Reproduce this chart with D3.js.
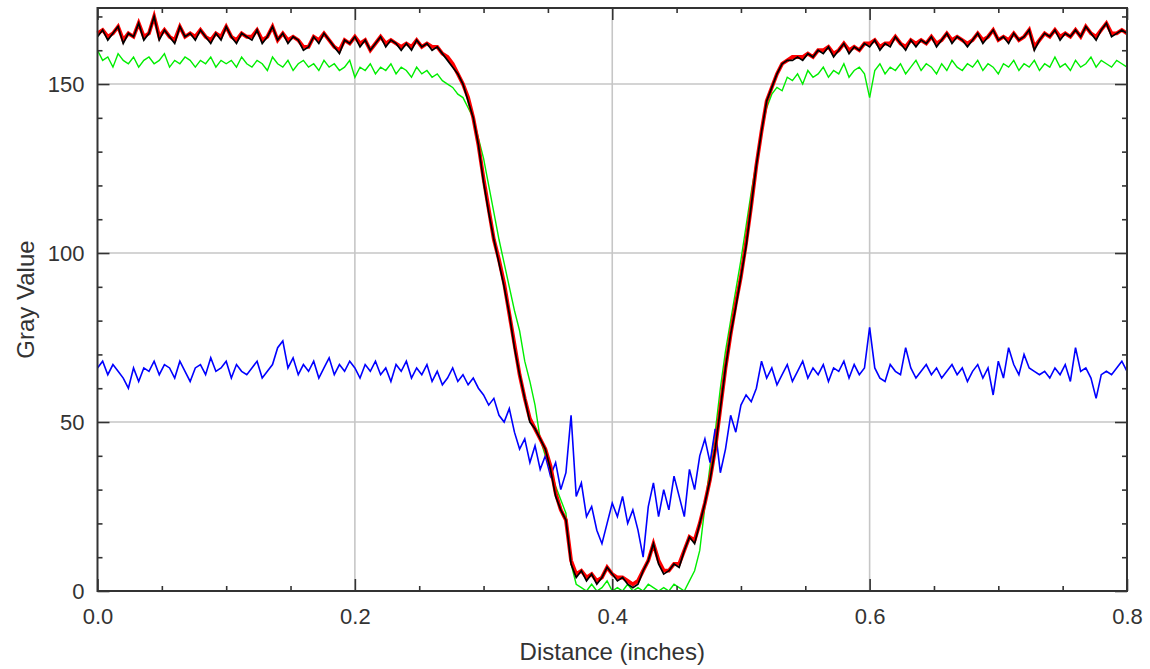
<!DOCTYPE html>
<html>
<head>
<meta charset="utf-8">
<script src="https://cdn.jsdelivr.net/npm/d3@7"></script>
<style>
  html, body { margin: 0; padding: 0; background: #ffffff; }
  svg { display: block; }
  text { font-family: "Liberation Sans", Arial, sans-serif; fill: #333; }
</style>
</head>
<body>
<svg id="chart" width="1150" height="669"></svg>
<script>
// ---- data ----
const xTickValues = [0.0, 0.2, 0.4, 0.6, 0.8];
const xTickLabels = ["0.0", "0.2", "0.4", "0.6", "0.8"];
const yTickValues = [0, 50, 100, 150];
const yTickLabels = ["0", "50", "100", "150"];
const xLabel = "Distance (inches)";
const yLabel = "Gray Value";
const sampleStep = 0.004; // inches between samples

const black = [
  164,166,163,165,167,162,165,164,168,163,
  165,170,163,166,164,162,167,164,165,163,
  166,164,162,165,163,167,164,162,165,164,
  163,166,162,164,167,163,165,162,164,163,
  160,161,164,162,165,163,161,159,163,162,
  164,161,163,160,162,164,161,163,162,160,
  162,160,163,161,162,160,161,159,157,155,
  153,150,145,140,132,121,112,104,97,90,
  82,72,64,57,50,48,45,42,36,28,
  24,21,8,4,6,3,5,2,4,7,
  5,3,4,2,1,2,6,9,14,8,
  5,6,8,7,12,16,14,20,26,33,
  42,54,66,76,84,93,102,114,126,136,
  145,149,153,156,157,157,158,157,159,158,
  160,159,161,158,160,162,159,161,160,162,
  161,163,160,162,161,164,162,160,163,161,
  163,162,164,161,163,165,162,164,163,161,
  163,165,162,164,166,163,164,162,165,163,
  164,166,160,163,165,164,166,163,165,164,
  166,164,167,165,163,166,168,164,165,166,
  165
];
const red = [
  165,166,164,165,167,163,165,164,168,164,
  165,170,164,166,164,163,167,164,165,164,
  166,164,163,165,164,167,164,163,165,164,
  164,166,163,164,167,163,165,163,164,163,
  161,161,164,163,165,163,161,160,163,162,
  164,162,163,160,162,164,162,163,162,161,
  162,161,163,161,162,161,161,159,158,156,
  153,150,146,140,132,122,113,104,98,91,
  82,73,64,57,51,48,45,42,37,29,
  24,21,9,5,6,4,5,3,4,7,
  5,4,4,3,2,3,6,9,14,9,
  6,6,8,8,12,16,15,20,26,33,
  42,54,66,76,85,93,103,114,126,136,
  145,149,153,156,157,158,158,158,159,158,
  160,160,161,159,160,162,160,161,160,162,
  162,163,161,162,162,164,162,161,163,162,
  163,162,164,162,163,165,163,164,163,162,
  163,165,163,164,166,163,164,163,165,163,
  164,166,161,163,165,164,166,164,165,164,
  166,164,167,165,164,166,168,165,165,166,
  165
];
const green = [
  160,157,158,155,159,157,156,158,155,157,
  158,156,157,159,155,157,156,158,157,155,
  157,156,158,155,157,156,157,155,158,156,
  155,157,156,154,158,156,155,157,154,156,
  157,155,156,154,157,155,156,154,155,157,
  152,155,154,156,153,155,154,156,153,155,
  154,152,155,153,154,152,153,151,150,149,
  147,146,143,140,134,128,120,112,104,97,
  90,83,77,68,62,55,45,40,36,31,
  27,23,8,2,1,0,2,0,1,3,
  0,1,0,2,0,1,0,2,1,0,
  1,0,2,1,0,3,6,12,25,37,
  47,60,71,80,89,98,108,118,127,136,
  143,147,149,148,152,151,153,150,154,152,
  153,155,152,154,153,156,152,154,155,153,
  146,154,156,153,155,154,156,153,155,157,
  154,156,155,153,156,154,157,155,154,156,
  155,157,154,156,155,153,156,155,157,154,
  156,155,157,154,156,155,158,155,156,154,
  157,155,156,158,155,157,156,155,157,156,
  155
];
const blue = [
  66,68,64,67,65,63,60,66,62,66,
  65,68,64,67,66,63,68,65,62,66,
  67,64,69,65,66,68,63,67,65,64,
  66,68,63,65,67,72,74,66,69,64,
  67,65,68,63,66,69,64,67,65,68,
  66,63,67,65,68,64,66,62,67,65,
  68,63,66,64,67,62,65,61,63,66,
  62,64,61,63,60,58,55,57,52,50,
  54,47,42,45,38,43,36,40,34,38,
  30,35,52,28,32,22,25,18,14,20,
  26,22,28,20,24,18,10,25,32,22,
  30,24,34,28,22,36,30,40,45,38,
  48,35,42,52,47,55,58,56,60,68,
  63,66,61,64,67,62,65,68,63,66,
  64,67,62,66,65,68,63,67,64,66,
  78,66,63,62,67,65,64,72,66,63,
  65,67,64,66,63,65,67,64,66,62,
  65,67,63,66,58,68,63,72,67,64,
  70,66,65,64,65,63,66,64,67,62,
  72,65,66,63,57,64,65,64,66,68,
  65
];

// ---- layout ----
const svg = d3.select("#chart");
const L = 97.5, R = 1127, T = 8, B = 591;
const x = d3.scaleLinear().domain([0, 0.8]).range([L, R]);
const y = d3.scaleLinear().domain([0, 172.5]).range([B, T]);

const distance = d3.range(black.length).map(i => i * sampleStep);

// grid
const grid = svg.append("g");
grid.selectAll("line.gx").data(xTickValues.slice(1)).join("line")
  .attr("x1", d => x(d)).attr("x2", d => x(d)).attr("y1", T).attr("y2", B)
  .attr("stroke", "#c6c6c6").attr("stroke-width", 1.6);
grid.selectAll("line.gy").data(yTickValues.slice(1)).join("line")
  .attr("x1", L).attr("x2", R).attr("y1", d => y(d)).attr("y2", d => y(d))
  .attr("stroke", "#c6c6c6").attr("stroke-width", 1.6);

// lines
const line = d3.line().x((d, i) => x(distance[i])).y(d => y(d)).curve(d3.curveLinear);
const plot = svg.append("g");
function drawSeries(data, color, w) {
  plot.append("path").datum(data).attr("d", line)
    .attr("fill", "none").attr("stroke", color).attr("stroke-width", w)
    .attr("stroke-linejoin", "miter");
}
drawSeries(green, "#00ee00", 1.4);
drawSeries(blue, "#0000ff", 1.6);
drawSeries(red, "#ff0000", 3.8);
drawSeries(black, "#000000", 1.7);

// axes (ticks inward)
const minorY = d3.range(0, 171, 10).filter(v => !yTickValues.includes(v));
const minorX = d3.range(0, 0.8001, 0.05).filter(v => !xTickValues.some(t => Math.abs(t - v) < 1e-6));

function styleAxis(g) {
  g.select(".domain").remove();
  g.selectAll(".tick line").attr("stroke", "#333").attr("stroke-width", 1.6);
}
const fmtY = d => yTickLabels[yTickValues.indexOf(d)];
const fmtX = d => xTickLabels[xTickValues.findIndex(t => Math.abs(t - d) < 1e-9)];

svg.append("g").attr("transform", `translate(${L},0)`)
  .call(d3.axisLeft(y).tickValues(yTickValues).tickSize(-12).tickPadding(13).tickFormat(fmtY))
  .call(styleAxis)
  .call(g => g.selectAll("text").style("font-size", "22px").attr("fill", "#333").attr("font-family", "Liberation Sans, Arial, sans-serif"));
svg.append("g").attr("transform", `translate(${L},0)`)
  .call(d3.axisLeft(y).tickValues(minorY).tickSize(-5).tickFormat(""))
  .call(styleAxis);
svg.append("g").attr("transform", `translate(${R},0)`)
  .call(d3.axisRight(y).tickValues(yTickValues).tickSize(-12).tickFormat(""))
  .call(styleAxis);
svg.append("g").attr("transform", `translate(${R},0)`)
  .call(d3.axisRight(y).tickValues(minorY).tickSize(-5).tickFormat(""))
  .call(styleAxis);

svg.append("g").attr("transform", `translate(0,${B})`)
  .call(d3.axisBottom(x).tickValues(xTickValues).tickSize(-12).tickPadding(17).tickFormat(fmtX))
  .call(styleAxis)
  .call(g => g.selectAll("text").style("font-size", "22px").attr("fill", "#333").attr("font-family", "Liberation Sans, Arial, sans-serif"));
svg.append("g").attr("transform", `translate(0,${B})`)
  .call(d3.axisBottom(x).tickValues(minorX).tickSize(-5).tickFormat(""))
  .call(styleAxis);
svg.append("g").attr("transform", `translate(0,${T})`)
  .call(d3.axisTop(x).tickValues(xTickValues).tickSize(-12).tickFormat(""))
  .call(styleAxis);
svg.append("g").attr("transform", `translate(0,${T})`)
  .call(d3.axisTop(x).tickValues(minorX).tickSize(-5).tickFormat(""))
  .call(styleAxis);

// frame
svg.append("rect").attr("x", L).attr("y", T).attr("width", R - L).attr("height", B - T)
  .attr("fill", "none").attr("stroke", "#333").attr("stroke-width", 2);

// axis titles
svg.append("text").attr("x", (L + R) / 2).attr("y", 660).attr("text-anchor", "middle")
  .style("font-size", "24px").text(xLabel);
svg.append("text").attr("transform", `translate(34,${(T + B) / 2}) rotate(-90)`)
  .attr("text-anchor", "middle").style("font-size", "24px").text(yLabel);
</script>
</body>
</html>
